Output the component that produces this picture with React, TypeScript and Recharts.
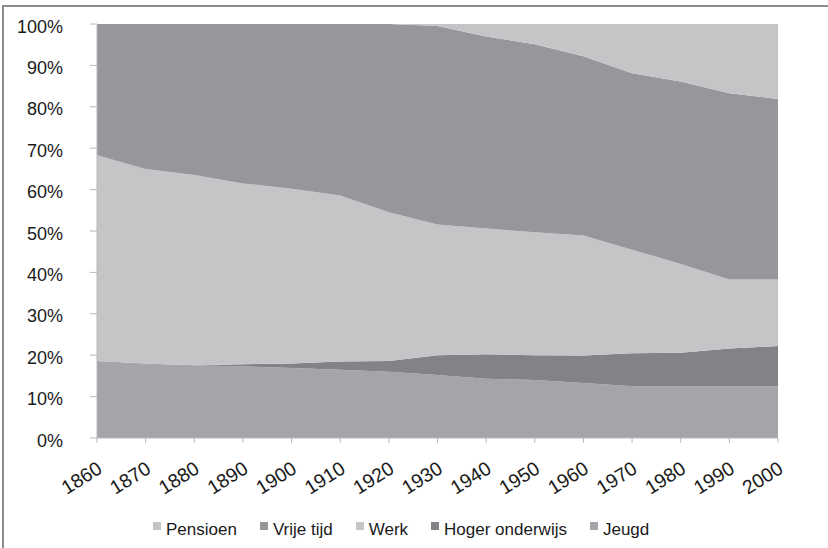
import { AreaChart, Area, XAxis, YAxis } from 'recharts';

const years = ['1860', '1870', '1880', '1890', '1900', '1910', '1920', '1930', '1940', '1950', '1960', '1970', '1980', '1990', '2000'];
const jeugd = [18.6, 18.0, 17.6, 17.3, 16.9, 16.5, 16.0, 15.2, 14.3, 14.0, 13.3, 12.5, 12.5, 12.5, 12.5];
const hogerOnderwijs = [0, 0, 0, 0.5, 1.1, 2.0, 2.6, 4.8, 5.9, 6.0, 6.6, 8.0, 8.1, 9.1, 9.7];
const werk = [49.7, 47.0, 45.9, 43.7, 42.2, 40.1, 35.9, 31.6, 30.4, 29.7, 29.0, 25.0, 21.4, 16.7, 16.1];
const vrijeTijd = [31.7, 35.0, 36.5, 38.5, 39.8, 41.4, 45.5, 47.9, 46.4, 45.4, 43.3, 42.6, 44.1, 45.0, 43.6];
const pensioen = [0, 0, 0, 0, 0, 0, 0, 0.5, 3.0, 4.9, 7.8, 11.9, 13.9, 16.7, 18.1];
const yTicks = [0, 10, 20, 30, 40, 50, 60, 70, 80, 90, 100];

const data = years.map((year, i) => ({
  year,
  jeugd: jeugd[i],
  hoger: hogerOnderwijs[i],
  werk: werk[i],
  vrije: vrijeTijd[i],
  pensioen: pensioen[i],
}));

const series = [
  { key: 'jeugd', name: 'Jeugd', color: '#a4a5a8' },
  { key: 'hoger', name: 'Hoger onderwijs', color: '#828387' },
  { key: 'werk', name: 'Werk', color: '#c4c5c7' },
  { key: 'vrije', name: 'Vrije tijd', color: '#96979b' },
  { key: 'pensioen', name: 'Pensioen', color: '#c4c5c7' },
];

const FONT = '"Liberation Sans", Arial, sans-serif';

const YearTick = (props: any) => {
  const { x, y, payload } = props;
  return (
    <g transform={`translate(${x + 6.5},${y + 27})`}>
      <text x={0} y={0} textAnchor="end" fill="#1a1a1a" fontSize={19.5} fontFamily={FONT} transform="rotate(-32)">
        {payload.value}
      </text>
    </g>
  );
};

const PercentTick = (props: any) => {
  const { x, y, payload } = props;
  return (
    <text x={x} y={y} dy={8.5} textAnchor="end" fill="#1a1a1a" fontSize={18} fontFamily={FONT}>
      {`${payload.value}%`}
    </text>
  );
};

const App = () => {
  return (
    <div style={{ position: 'absolute', left: 0, top: 0, width: 828, height: 548, background: '#fff', overflow: 'hidden' }}>
      <div style={{ position: 'absolute', left: 2, top: 5, width: 900, height: 600, borderTop: '2px solid #8c8c8c', borderLeft: '2px solid #8c8c8c' }} />
      <AreaChart width={828} height={548} data={data} margin={{ top: 24, right: 50, bottom: 0, left: 0 }} style={{ position: 'absolute', left: 0, top: 0 }}>
        <XAxis
          dataKey="year"
          stroke="#b8b8b8"
          tickSize={5}
          interval={0}
          height={110}
          tick={<YearTick />}
        />
        <YAxis
          domain={[0, 100]}
          ticks={yTicks}
          width={97}
          stroke="#b8b8b8"
          tickSize={7}
          tickMargin={27}
          tick={<PercentTick />}
        />
        {series.map((s) => (
          <Area
            key={s.key}
            dataKey={s.key}
            name={s.name}
            stackId="1"
            type="linear"
            stroke="none"
            fill={s.color}
            fillOpacity={1}
            isAnimationActive={false}
          />
        ))}
      </AreaChart>
      <div style={{ position: 'absolute', top: 521, left: 153, display: 'flex', gap: 23, fontFamily: FONT, fontSize: 17, lineHeight: '17px', color: '#1a1a1a' }}>
        {[...series].reverse().map((s) => (
          <span key={s.key} style={{ display: 'flex', alignItems: 'flex-start' }}>
            <span style={{ width: 8, height: 8, background: s.color, marginTop: 1, marginRight: 5 }} />
            {s.name}
          </span>
        ))}
      </div>
    </div>
  );
};

export default App;
